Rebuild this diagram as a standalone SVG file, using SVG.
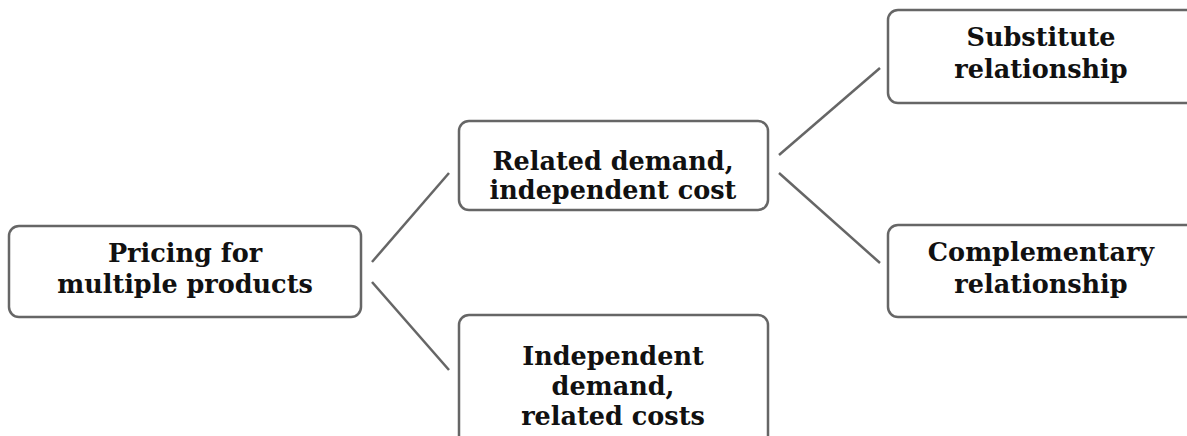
<svg xmlns="http://www.w3.org/2000/svg" width="1187" height="436" viewBox="0 0 1187 436">
<style>
.box{fill:#fff;stroke:#666;stroke-width:2.5}
.t{font-family:"DejaVu Serif","Liberation Serif",serif;font-weight:bold;font-size:25.5px;fill:#111;text-anchor:middle}
.c{stroke:#666;stroke-width:2.5;fill:none}
</style>
<rect width="1187" height="436" fill="#fff"/>
<g id="connectors">
<line class="c" x1="372" y1="262" x2="449" y2="173"/>
<line class="c" x1="372" y1="282" x2="449" y2="370"/>
<line class="c" x1="779" y1="155" x2="880" y2="68"/>
<line class="c" x1="779" y1="173" x2="880" y2="263"/>
</g>
<g id="n1"><rect class="box" x="9" y="226" width="352" height="91" rx="10"/>
<text class="t" x="185" y="262">Pricing for</text><text class="t" x="185" y="293">multiple products</text></g>
<g id="n2"><rect class="box" x="459" y="121" width="309" height="89" rx="10"/>
<text class="t" x="613" y="170">Related demand,</text><text class="t" x="613" y="199">independent cost</text></g>
<g id="n3"><rect class="box" x="459" y="315" width="309" height="140" rx="10"/>
<text class="t" x="613" y="365">Independent</text><text class="t" x="613" y="395">demand,</text><text class="t" x="613" y="425">related costs</text></g>
<g id="n4"><rect class="box" x="888" y="10" width="320" height="93" rx="10"/>
<text class="t" x="1041" y="46">Substitute</text><text class="t" x="1041" y="78">relationship</text></g>
<g id="n5"><rect class="box" x="888" y="225" width="320" height="92" rx="10"/>
<text class="t" x="1041" y="261">Complementary</text><text class="t" x="1041" y="293">relationship</text></g>
</svg>
